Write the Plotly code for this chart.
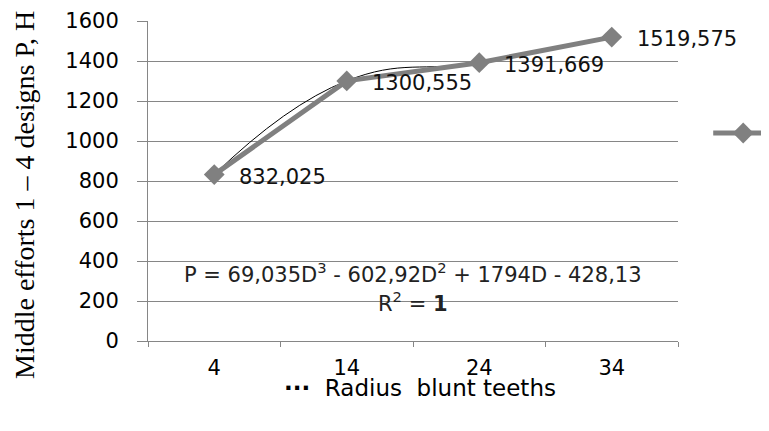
import plotly.graph_objects as go

categories = ["4", "14", "24", "34"]
values = [832.025, 1300.555, 1391.669, 1519.575]
labels = ["832,025", "1300,555", "1391,669", "1519,575"]
y_ticks = [0, 200, 400, 600, 800, 1000, 1200, 1400, 1600]

# the page shows the figure offset by 8 px (body margin)
OFF = 8
PL, PT, PW, PH = 148 - OFF, 21 - OFF, 530, 320
W, H = 769, 431

fig = go.Figure()

# thin trend curve (smooth through the points)
fig.add_trace(go.Scatter(
    x=categories, y=values, mode="lines",
    line=dict(color="black", width=1, shape="spline", smoothing=1.3),
    showlegend=False, hoverinfo="skip"))

# main series
fig.add_trace(go.Scatter(
    x=categories, y=values, mode="lines+markers", name=" ",
    line=dict(color="#808080", width=5),
    marker=dict(symbol="diamond", size=16, color="#808080"),
    showlegend=True))

annotations = []
for i, (v, t) in enumerate(zip(values, labels)):
    annotations.append(dict(x=i, y=v, text=t, showarrow=False, xanchor="left",
                            yanchor="middle", xshift=23, yshift=-2,
                            font=dict(family="DejaVu Sans", size=21, color="#111")))

annotations.append(dict(xref="paper", yref="paper", x=0.5, y=(341 - 273) / 320,
                        text="P = 69,035D<sup>3</sup> - 602,92D<sup>2</sup> + 1794D - 428,13",
                        showarrow=False, xanchor="center", yanchor="middle",
                        font=dict(family="DejaVu Sans", size=21, color="#222")))
annotations.append(dict(xref="paper", yref="paper", x=0.5, y=(341 - 302) / 320,
                        text="R<sup>2</sup> = <b>1</b>",
                        showarrow=False, xanchor="center", yanchor="middle",
                        font=dict(family="DejaVu Sans", size=21, color="#222")))

# axis titles
annotations.append(dict(xref="paper", yref="paper", x=(420 - 148) / 530, y=-(388 - 341) / 320,
                        text="<b>···</b>\u00a0 Radius\u00a0 blunt teeths",
                        showarrow=False, xanchor="center", yanchor="middle",
                        font=dict(family="DejaVu Sans", size=23, color="black")))
annotations.append(dict(xref="paper", yref="paper", x=-(148 - 24) / 530, y=(341 - 195) / 320,
                        text="Middle efforts 1 – 4 designs P, H", textangle=-90,
                        showarrow=False, xanchor="center", yanchor="middle",
                        font=dict(family="Liberation Serif", size=28, color="black")))

fig.update_layout(
    width=W, height=H,
    margin=dict(l=PL, r=W - PL - PW, t=PT, b=H - PT - PH, autoexpand=False),
    paper_bgcolor="white", plot_bgcolor="white",
    annotations=annotations,
    legend=dict(x=1.057, y=(341 - 133) / 320, xanchor="left", yanchor="middle",
                bgcolor="rgba(0,0,0,0)", font=dict(size=2), itemwidth=60),
    xaxis=dict(
        type="category", range=[-0.5, 3.5], automargin=False,
        showgrid=False, showline=True, linecolor="#868686", linewidth=1,
        ticks="outside", tickson="boundaries", ticklen=5, tickcolor="#868686",
        ticklabelstandoff=8,
        tickfont=dict(family="DejaVu Sans", size=21, color="black")),
    yaxis=dict(
        range=[0, 1600], tickvals=y_ticks, automargin=False,
        showgrid=True, gridcolor="#868686", gridwidth=1,
        showline=True, linecolor="#868686", linewidth=1,
        ticks="outside", ticklen=10, tickcolor="#868686",
        ticklabelstandoff=14,
        zeroline=False,
        tickfont=dict(family="DejaVu Sans", size=21, color="black")),
)

fig.write_html("out.html")
